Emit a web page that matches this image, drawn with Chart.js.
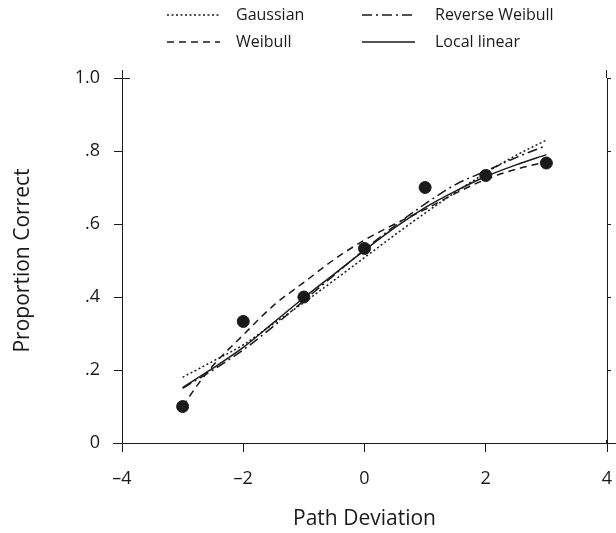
<!DOCTYPE html>
<html>
<head>
<meta charset="utf-8">
<script src="https://cdn.jsdelivr.net/npm/chart.js@4.4.1/dist/chart.umd.min.js"></script>
<style>
  html, body { margin: 0; padding: 0; background: #fff; }
</style>
</head>
<body>
<canvas id="chart" width="616" height="533"></canvas>
<script>
// Axis ticks
const xTicks = [-4, -2, 0, 2, 4];
const xTickLabels = ['\u20134', '\u20132', '0', '2', '4'];
const yTicks = [0, 0.2, 0.4, 0.6, 0.8, 1.0];
const yTickLabels = ['0', '.2', '.4', '.6', '.8', '1.0'];

// Observed proportions
const pathDev = [-3, -2, -1, 0, 1, 2, 3];
const observed = [0.10, 0.333, 0.40, 0.533, 0.70, 0.733, 0.767];

// Fitted curves
const curveX     = [-3, -2.5, -2, -1.5, -1, -0.5, 0, 0.5, 1, 1.5, 2, 2.5, 3];
const gaussian   = [0.180, 0.224, 0.269, 0.327, 0.385, 0.446, 0.508, 0.570, 0.630, 0.687, 0.740, 0.788, 0.830];
const revWeibull = [0.150, 0.200, 0.255, 0.320, 0.390, 0.460, 0.530, 0.595, 0.655, 0.708, 0.745, 0.782, 0.815];
const localLin   = [0.152, 0.205, 0.262, 0.330, 0.398, 0.463, 0.528, 0.590, 0.645, 0.690, 0.730, 0.762, 0.790];
const weibullX   = [-3, -2.75, -2.5, -2, -1.5, -1, -0.5, 0, 0.5, 1, 1.5, 2, 2.5, 3];
const weibull    = [0.100, 0.160, 0.212, 0.296, 0.377, 0.440, 0.503, 0.556, 0.600, 0.640, 0.684, 0.722, 0.750, 0.770];

const FONT = '"Open Sans", "Noto Sans", sans-serif';
const INK = '#1a1a1a';

function pts(xs, ys){ return xs.map((x, i) => ({ x, y: ys[i] })); }

function curve(label, xs, ys, dash){
  return {
    type: 'line',
    label,
    data: pts(xs, ys),
    borderColor: INK,
    borderWidth: 1.5,
    borderDash: dash,
    pointRadius: 0,
    fill: false,
    cubicInterpolationMode: 'monotone'
  };
}

const legendItems = [
  { text: 'Gaussian', dash: [2, 2.5], x: 167, y: 15 },
  { text: 'Weibull', dash: [7, 5], x: 167, y: 42 },
  { text: 'Reverse Weibull', dash: [10, 4, 2, 4], x: 362, y: 15 },
  { text: 'Local linear', dash: [], x: 362, y: 42 }
];

// legend + small axis extras
const extras = {
  id: 'extras',
  afterDraw(c){
    const ctx = c.ctx;
    const a = c.chartArea;
    ctx.save();
    ctx.strokeStyle = INK;
    ctx.lineWidth = 1;
    ctx.beginPath();
    ctx.moveTo(a.left - 9, a.bottom + 0.5); ctx.lineTo(a.right + 9, a.bottom + 0.5);
    ctx.moveTo(a.left, a.top + 0.5); ctx.lineTo(a.left + 8, a.top + 0.5);
    ctx.moveTo(a.left + 0.5, a.top - 8); ctx.lineTo(a.left + 0.5, a.top);
    ctx.moveTo(a.right - 0.5, a.top - 8); ctx.lineTo(a.right - 0.5, a.top);
    ctx.moveTo(a.left + 0.5, a.bottom - 3); ctx.lineTo(a.left + 0.5, a.bottom);
    ctx.moveTo(a.right - 0.5, a.bottom - 3); ctx.lineTo(a.right - 0.5, a.bottom);
    ctx.stroke();

    ctx.font = '16px ' + FONT;
    ctx.textBaseline = 'middle';
    ctx.fillStyle = INK;
    legendItems.forEach(it => {
      ctx.beginPath();
      ctx.lineWidth = 1.5;
      ctx.setLineDash(it.dash);
      ctx.moveTo(it.x, it.y); ctx.lineTo(it.x + 53, it.y);
      ctx.stroke();
      ctx.setLineDash([]);
      ctx.fillText(it.text, it.x + (it.x < 300 ? 69 : 73), it.y);
    });
    ctx.restore();
  }
};

new Chart(document.getElementById('chart'), {
  data: {
    datasets: [
      curve('Gaussian', curveX, gaussian, [2, 2.5]),
      curve('Weibull', weibullX, weibull, [7, 5]),
      curve('Reverse Weibull', curveX, revWeibull, [10, 4, 2, 4]),
      curve('Local linear', curveX, localLin, []),
      {
        type: 'scatter',
        label: 'Observed',
        data: pts(pathDev, observed),
        backgroundColor: INK,
        borderColor: INK,
        pointRadius: 6
      }
    ]
  },
  options: {
    responsive: false,
    animation: false,
    layout: { padding: { top: 78, left: 0, right: 0, bottom: 0 } },
    plugins: { legend: { display: false }, tooltip: { enabled: false } },
    scales: {
      x: {
        type: 'linear',
        min: -4, max: 4,
        afterBuildTicks: s => { s.ticks = xTicks.map(v => ({ value: v })); },
        afterFit: s => { s.height = 90; s.paddingLeft = 0; s.paddingRight = 0; },
        grid: { drawOnChartArea: false, tickLength: 9, color: INK },
        border: { color: INK },
        ticks: {
          padding: 16,
          color: INK,
          maxRotation: 0,
          font: { family: FONT, size: 18 },
          callback: (v, i) => xTickLabels[i]
        },
        title: {
          display: true,
          text: 'Path Deviation',
          color: INK,
          font: { family: FONT, size: 21 },
          padding: { top: 0, bottom: 1 }
        }
      },
      y: {
        type: 'linear',
        position: 'left',
        min: 0, max: 1,
        afterBuildTicks: s => { s.ticks = yTicks.map(v => ({ value: v })); },
        afterFit: s => { s.width = 122; s.paddingTop = 0; s.paddingBottom = 0; },
        grid: { drawOnChartArea: false, tickLength: 8, color: INK },
        border: { color: INK },
        ticks: {
          padding: 14,
          color: INK,
          font: { family: FONT, size: 18 },
          callback: (v, i) => yTickLabels[i]
        },
        title: {
          display: true,
          text: 'Proportion Correct',
          color: INK,
          font: { family: FONT, size: 21 },
          padding: { top: 10, bottom: 0 }
        }
      },
      y2: {
        type: 'linear',
        position: 'right',
        min: 0, max: 1,
        afterBuildTicks: s => { s.ticks = yTicks.map(v => ({ value: v })); },
        afterFit: s => { s.width = 9; s.paddingTop = 0; s.paddingBottom = 0; },
        grid: { drawOnChartArea: false, tickLength: 4, color: INK },
        border: { color: INK },
        ticks: { display: true, padding: 0, callback: () => '' }
      }
    }
  },
  plugins: [extras]
});
</script>
</body>
</html>
